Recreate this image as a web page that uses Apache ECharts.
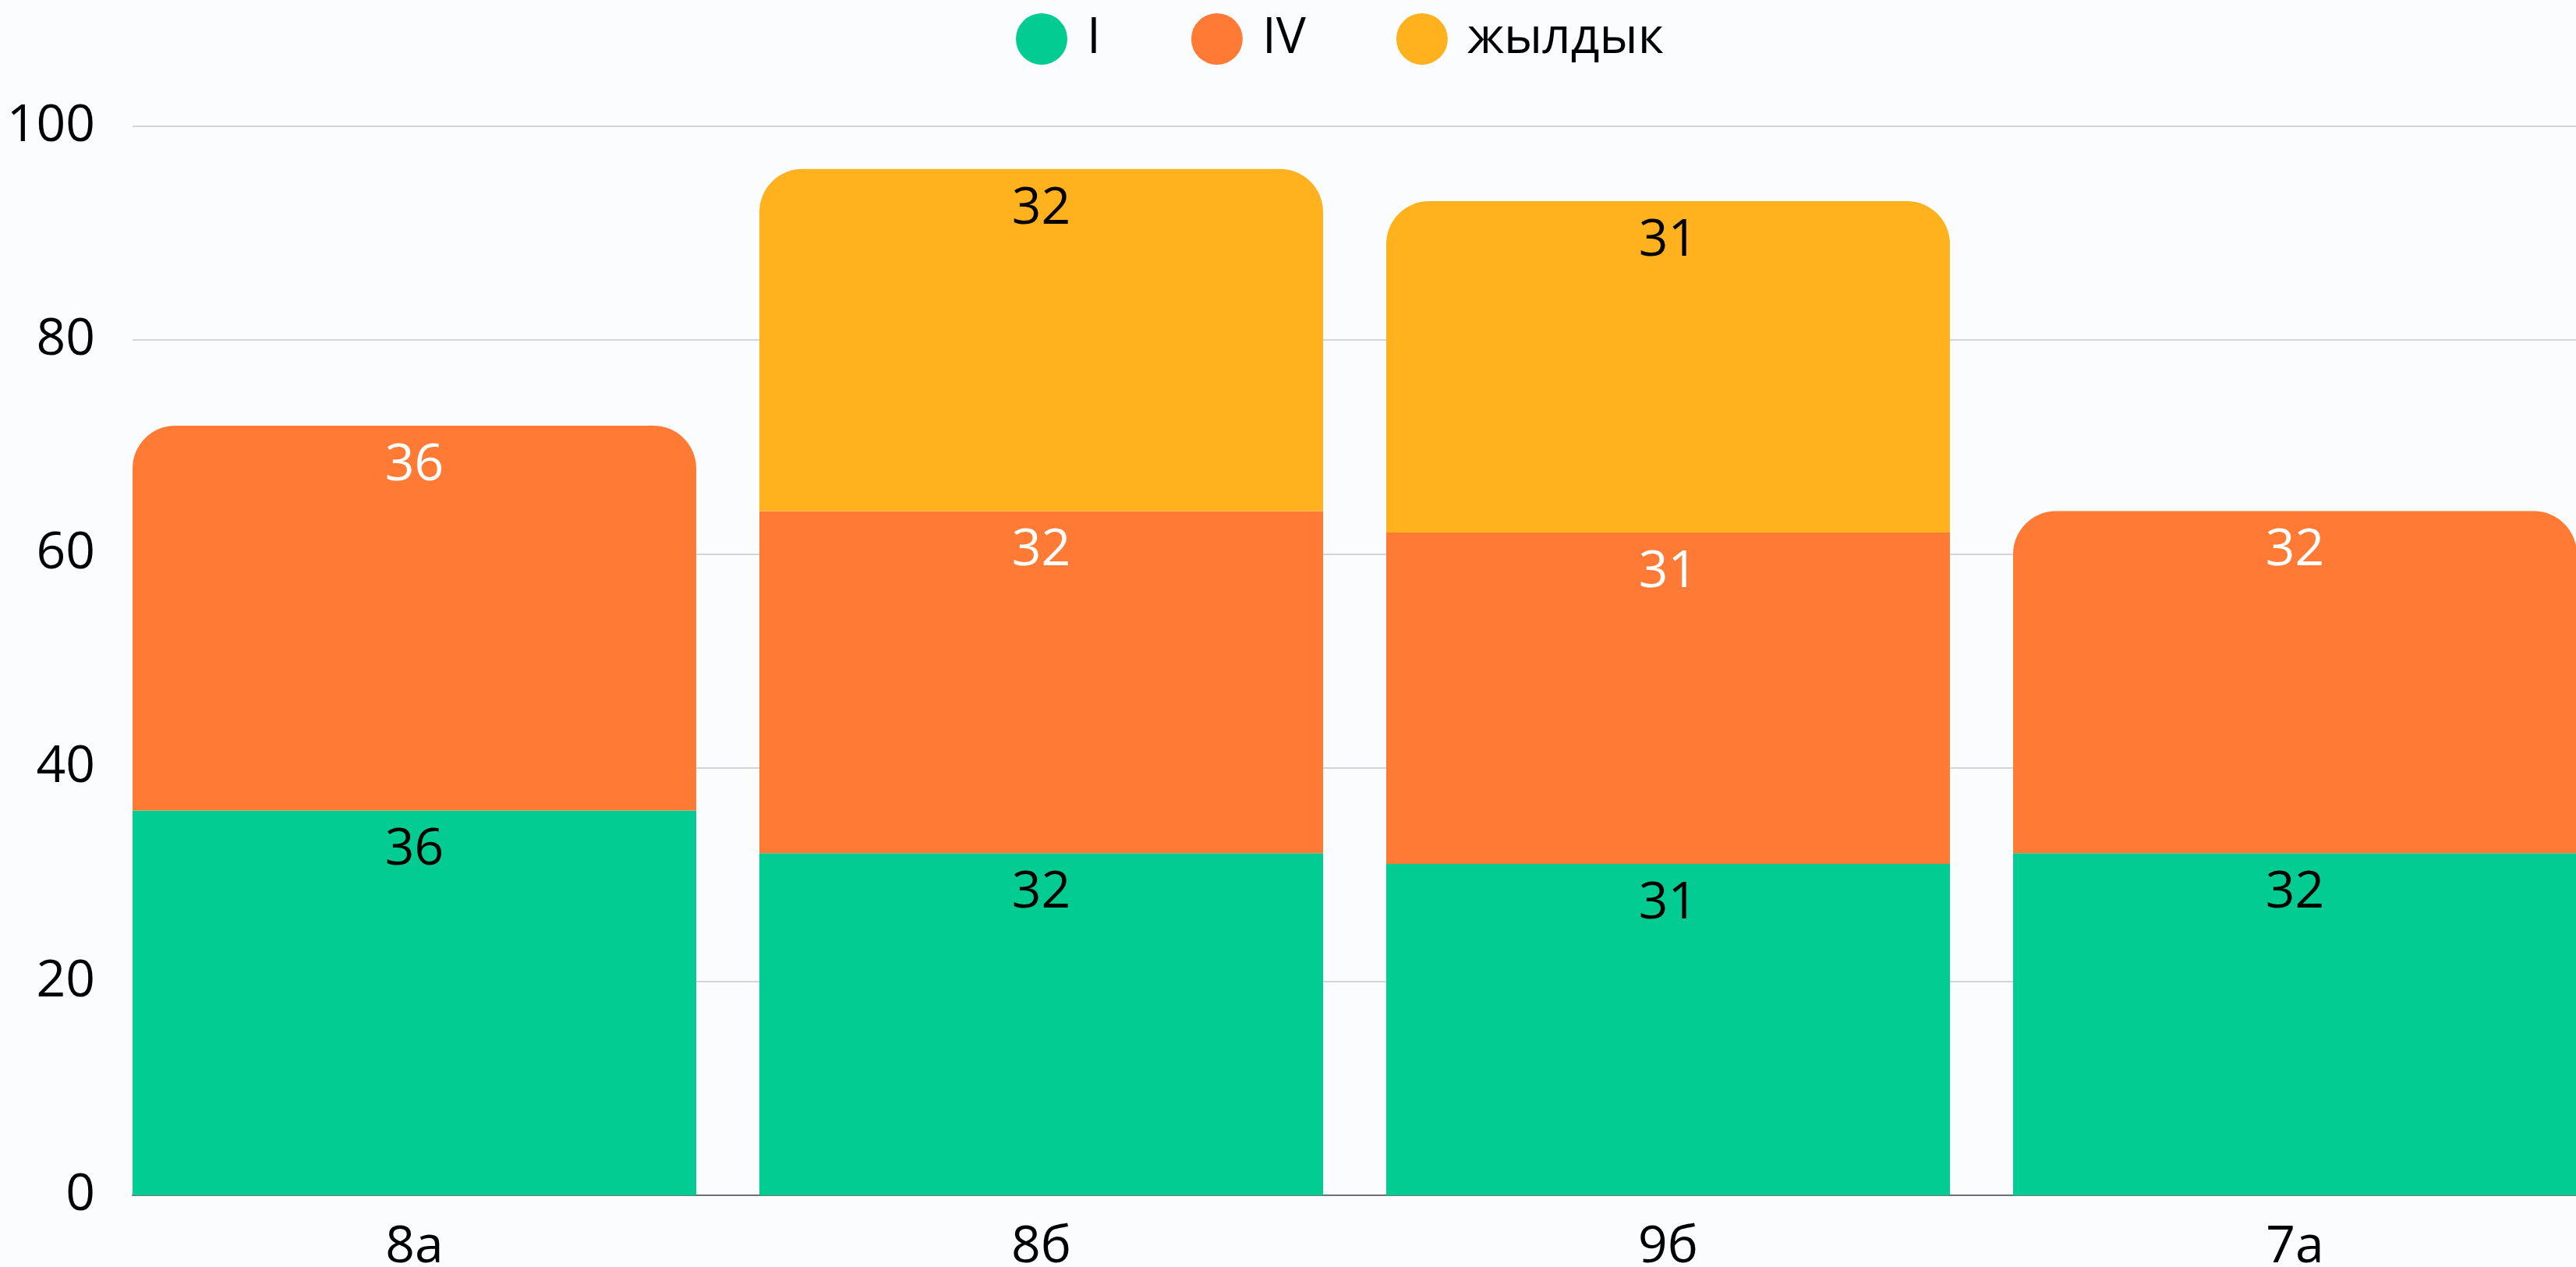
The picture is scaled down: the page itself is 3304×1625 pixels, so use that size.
<!DOCTYPE html>
<html>
<head>
<meta charset="utf-8">
<script src="https://cdn.jsdelivr.net/npm/echarts@6/dist/echarts.min.js"></script>
<style>
	html, body { margin: 0; padding: 0; background: #fbfcfe; }
	#chart { width: 3304px; height: 1625px; }
</style>
</head>
<body>
<div id="chart"></div>
<script>
var classes = ['8a', '8б', '9б', '7a'];
var seriesNames = ['I', 'IV', 'жылдык'];
var quarterI = [36, 32, 31, 32];
var quarterIV = [36, 32, 31, 32];
var yearly = [null, 32, 31, null];
var yTicks = [0, 20, 40, 60, 80, 100];

var colors = ['#02cc91', '#ff7a35', '#ffb11e'];
var fontFamily = '"Open Sans", "Noto Sans", sans-serif';
var radius = 55;

// the top block of each column gets rounded corners
function topItems(values, upper) {
	var list = [];
	for (var i = 0; i < values.length; i += 1) {
		var isTop = upper == null || upper[i] == null;
		list.push({
			value: values[i],
			itemStyle: { borderRadius: isTop ? [radius, radius, 0, 0] : 0 }
		});
	}
	return list;
}

function barSeries(name, data, color, labelColor) {
	return {
		name: name,
		type: 'bar',
		stack: 'total',
		barWidth: 723,
		barGap: '-88.8%',
		data: data,
		itemStyle: { color: color },
		label: {
			show: true,
			position: 'insideTop',
			distance: 18,
			color: labelColor,
			fontFamily: fontFamily,
			fontSize: 66
		}
	};
}

var myChart = echarts.init(document.getElementById('chart'));
myChart.setOption({
	backgroundColor: '#fbfcfe',
	animation: false,
	legend: {
		data: seriesNames,
		left: 1298,
		top: 12,
		icon: 'circle',
		itemWidth: 66,
		itemHeight: 66,
		itemGap: 116,
		textStyle: {
			color: '#000',
			fontFamily: fontFamily,
			fontSize: 64,
			padding: [0, 0, 0, 20]
		}
	},
	grid: {
		left: 170,
		width: 3216,
		top: 162,
		bottom: 92,
		outerBoundsMode: 'none'
	},
	xAxis: {
		type: 'category',
		data: classes,
		axisTick: { show: false },
		axisLine: { lineStyle: { color: '#6e7079', width: 2 } },
		axisLabel: {
			color: '#000',
			fontFamily: fontFamily,
			fontSize: 66,
			margin: 34,
			// keep the name under the column, which sits left in its slot
			padding: [0, 81, 0, 0]
		}
	},
	yAxis: {
		type: 'value',
		min: yTicks[0],
		max: yTicks[yTicks.length - 1],
		interval: yTicks[1] - yTicks[0],
		axisLabel: {
			color: '#000',
			fontFamily: fontFamily,
			fontSize: 66,
			margin: 48
		},
		splitLine: { lineStyle: { color: '#d3d5dc', width: 2 } }
	},
	series: [
		barSeries(seriesNames[0], quarterI, colors[0], '#000'),
		barSeries(seriesNames[1], topItems(quarterIV, yearly), colors[1], '#fff'),
		barSeries(seriesNames[2], topItems(yearly), colors[2], '#000'),
		{
			// empty stack, only shifts the columns to the left edge of their slot
			name: 'pad',
			type: 'bar',
			stack: 'pad',
			barWidth: 723,
			barGap: '-88.8%',
			silent: true,
			data: [null, null, null, null]
		}
	]
});
</script>
</body>
</html>
